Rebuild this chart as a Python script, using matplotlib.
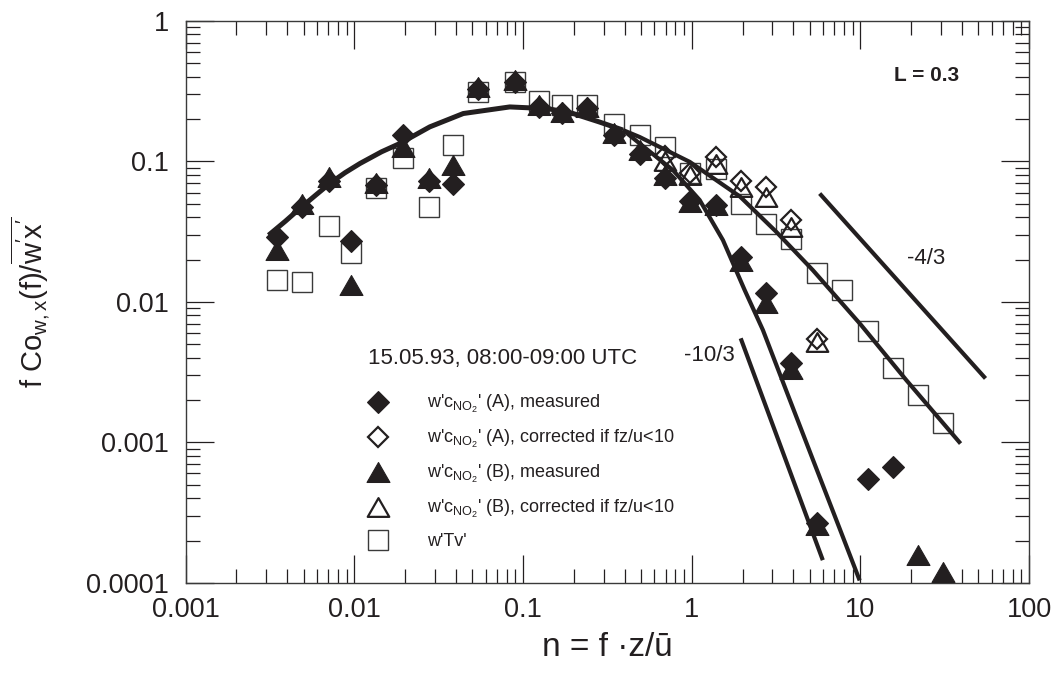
import numpy as np
import matplotlib
matplotlib.use("Agg")
import matplotlib.pyplot as plt
from matplotlib.path import Path
from matplotlib.ticker import FuncFormatter, LogLocator, NullFormatter

plt.rcParams['font.family'] = ['Liberation Sans', 'DejaVu Sans']
plt.rcParams['mathtext.fontset'] = 'custom'
plt.rcParams['mathtext.rm'] = 'Liberation Sans'
plt.rcParams['mathtext.it'] = 'Liberation Sans:italic'
plt.rcParams['mathtext.bf'] = 'Liberation Sans:bold'

ink = '#231f20'
nan = np.nan

#%% data
# normalised frequency n = f z / u
n = [0.0035, 0.0049, 0.0071, 0.0095, 0.0134, 0.0195, 0.0276, 0.0385, 0.054, 0.089,
     0.125, 0.17, 0.24, 0.345, 0.49, 0.69, 0.97, 1.39, 1.95, 2.77, 3.89, 5.5,
     7.8, 11.1, 15.6, 22.0, 31.0]

a_meas = [0.029, 0.0477, 0.072, 0.0269, 0.068, 0.154, 0.072, 0.069, 0.33, 0.37,
          0.245, 0.222, 0.24, 0.155, 0.113, 0.076, 0.052, 0.049, 0.021, 0.0115,
          0.00366, 0.000266, nan, 0.00055, 0.000665, nan, nan]
b_meas = [0.0234, 0.05, 0.078, 0.0132, 0.07, 0.127, 0.076, 0.094, 0.34, 0.38,
          0.25, 0.225, 0.245, 0.16, 0.12, 0.08, 0.0516, 0.049, 0.0194, 0.0098,
          0.0033, 0.00026, nan, nan, nan, 0.000158, 0.00012]
a_corr = [nan] * 15 + [0.11, 0.082, 0.108, 0.072, 0.066, 0.038, 0.0054] + [nan] * 5
b_corr = [nan] * 15 + [0.10, 0.08, 0.0965, 0.066, 0.056, 0.034, 0.0052] + [nan] * 5
tv = [0.0143, 0.0139, 0.0349, 0.0222, 0.065, 0.105, 0.047, 0.13, 0.31, 0.37,
      0.27, 0.25, 0.25, 0.184, 0.154, 0.127, 0.082, 0.088, 0.05, 0.036,
      0.028, 0.016, 0.0122, 0.0062, 0.00337, 0.00218, 0.00137]

# fitted model cospectrum (common part + two high-frequency branches)
fit_n = [0.0031, 0.0039, 0.00475, 0.0059, 0.00716, 0.0088, 0.0108, 0.0145, 0.0186,
         0.028, 0.0442, 0.0834, 0.141, 0.198, 0.282, 0.391]
fit_c = [0.0298, 0.0375, 0.0462, 0.0575, 0.0697, 0.083, 0.0966, 0.117, 0.134,
         0.176, 0.219, 0.244, 0.237, 0.219, 0.191, 0.167]
up_n = [0.391, 0.491, 0.973, 1.93, 3.16, 5.22, 10.0, 18.7, 39.2]
up_c = [0.167, 0.149, 0.0991, 0.0562, 0.0316, 0.0168, 0.00692, 0.00277, 0.00098]
lo_n = [0.391, 0.491, 0.774, 1.114, 1.53, 2.06, 2.64, 3.75, 5.22, 7.52, 9.89]
lo_c = [0.167, 0.134, 0.0865, 0.053, 0.0275, 0.0121, 0.0063, 0.00211, 0.000755,
        0.000244, 0.000104]

# slope reference lines
s43_n = [5.73, 55.1]
s43_c = [0.059, 0.00285]
s103_n = [1.95, 5.98]
s103_c = [0.0055, 0.000145]

#%%
fig = plt.figure(figsize=(10.61, 6.73), dpi=100)
ax = fig.add_axes([0.175, 0.134, 0.795, 0.835])
ax.set_xscale('log')
ax.set_yscale('log')
ax.set_xlim(0.001, 100)
ax.set_ylim(0.0001, 1)

tri = Path([(-1, -0.87), (1, -0.87), (0, 0.87), (-1, -0.87)], closed=True)

h_sq, = ax.plot(n, tv, ls='none', marker='s', ms=15, mfc='none', mec='#3a3a3a', mew=1.0, zorder=2)
ax.plot(fit_n, fit_c, color=ink, lw=3.6, solid_capstyle='butt', zorder=3)
ax.plot(up_n, up_c, color=ink, lw=3.0, solid_capstyle='butt', zorder=3)
ax.plot(lo_n, lo_c, color=ink, lw=3.0, solid_capstyle='butt', zorder=3)
ax.plot(s43_n, s43_c, color=ink, lw=3.0, solid_capstyle='butt', zorder=3)
ax.plot(s103_n, s103_c, color=ink, lw=3.0, solid_capstyle='butt', zorder=3)
h_d, = ax.plot(n, a_meas, ls='none', marker='D', ms=11.5, mfc=ink, mec=ink, mew=0.8, zorder=4)
h_t, = ax.plot(n, b_meas, ls='none', marker=tri, ms=16.5, mfc=ink, mec=ink, mew=0.8, zorder=5)
h_dc, = ax.plot(n, a_corr, ls='none', marker='D', ms=10.5, mfc='none', mec=ink, mew=1.6, zorder=6)
h_tc, = ax.plot(n, b_corr, ls='none', marker=tri, ms=15.5, mfc='none', mec=ink, mew=1.6, zorder=6)

ax.text(24.5, 0.41, 'L = 0.3', fontsize=15, fontweight='bold', ha='center', va='center', color=ink)
ax.text(24.5, 0.0204, '-4/3', fontsize=16, ha='center', va='center', color=ink)
ax.text(1.28, 0.00418, '-10/3', fontsize=16, ha='center', va='center', color=ink)
ax.text(0.216, 0.40, '15.05.93, 08:00-09:00 UTC', fontsize=16, ha='left', va='center',
        color=ink, transform=ax.transAxes)

labels = [r"w'c$_{\mathrm{NO}_2}$' (A), measured",
          r"w'c$_{\mathrm{NO}_2}$' (A), corrected if fz/u<10",
          r"w'c$_{\mathrm{NO}_2}$' (B), measured",
          r"w'c$_{\mathrm{NO}_2}$' (B), corrected if fz/u<10",
          "w'Tv'"]
leg = ax.legend([h_d, h_dc, h_t, h_tc, h_sq], labels, loc='upper left',
                bbox_to_anchor=(0.212, 0.338), frameon=False, fontsize=13,
                handlelength=1.5, handletextpad=1.95, labelspacing=0.72,
                borderpad=0, borderaxespad=0, numpoints=1)
for t in leg.get_texts():
    t.set_color(ink)

fmt = FuncFormatter(lambda v, p: '%g' % v)
for axis in (ax.xaxis, ax.yaxis):
    axis.set_major_locator(LogLocator(base=10, numticks=10))
    axis.set_minor_locator(LogLocator(base=10, subs=np.arange(2, 10), numticks=20))
    axis.set_major_formatter(fmt)
    axis.set_minor_formatter(NullFormatter())

ax.tick_params(which='both', direction='in', top=True, right=True, colors=ink,
               labelsize=19.5, width=0.9)
ax.tick_params(which='major', length=20.5)
ax.tick_params(which='minor', length=10)
ax.tick_params(axis='y', pad=12)
ax.tick_params(axis='x', pad=10)
for sp in ax.spines.values():
    sp.set_linewidth(1.0)
    sp.set_color('#3a3a3a')

ax.set_xlabel(u'n = f \u00b7z/\u016b', fontsize=24, color=ink)
ax.set_ylabel(r"f Co$_{\mathrm{w,x}}$(f)/$\overline{\mathrm{w'x'}}$", fontsize=21, color=ink)
ax.xaxis.set_label_coords(0.5, -0.088)
ax.yaxis.set_label_coords(-0.158, 0.5)

fig.savefig('out.png', dpi=100)
